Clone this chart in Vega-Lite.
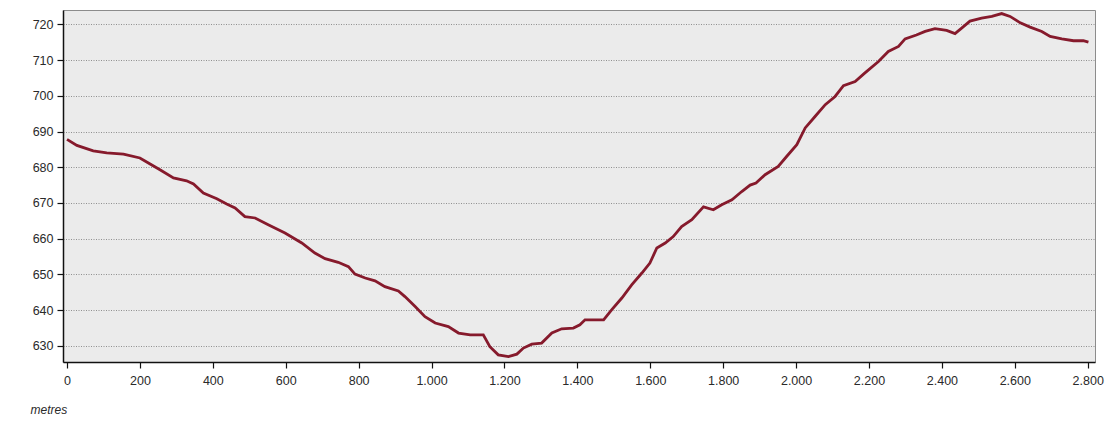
{
  "$schema": "https://vega.github.io/schema/vega-lite/v6.json",
  "autosize": {"type": "none"},
  "width": 1032,
  "height": 352,
  "padding": {"left": 63, "top": 10, "right": 19, "bottom": 59},
  "background": "#ffffff",
  "config": {
    "view": {"fill": "#ebebeb", "stroke": "#8c8c8c", "strokeWidth": 1},
    "axis": {
      "labelFont": "Liberation Sans",
      "labelFontSize": 12.5,
      "labelColor": "#2a2a2a",
      "domainColor": "#111111",
      "domainWidth": 1.5,
      "tickColor": "#111111",
      "tickSize": 6,
      "tickWidth": 1.2
    }
  },
  "data": {
    "values": [
      {"distance": 0, "elevation": 687.8},
      {"distance": 27, "elevation": 686.1},
      {"distance": 72, "elevation": 684.6},
      {"distance": 109, "elevation": 684.0},
      {"distance": 155, "elevation": 683.7},
      {"distance": 200, "elevation": 682.6},
      {"distance": 228, "elevation": 680.9},
      {"distance": 255, "elevation": 679.3},
      {"distance": 292, "elevation": 677.0},
      {"distance": 328, "elevation": 676.2},
      {"distance": 347, "elevation": 675.3},
      {"distance": 374, "elevation": 672.8},
      {"distance": 411, "elevation": 671.2},
      {"distance": 438, "elevation": 669.7},
      {"distance": 461, "elevation": 668.6},
      {"distance": 488, "elevation": 666.2},
      {"distance": 516, "elevation": 665.8},
      {"distance": 552, "elevation": 663.9},
      {"distance": 598, "elevation": 661.6},
      {"distance": 644, "elevation": 658.8},
      {"distance": 680, "elevation": 656.0},
      {"distance": 708, "elevation": 654.4},
      {"distance": 744, "elevation": 653.4},
      {"distance": 772, "elevation": 652.2},
      {"distance": 790, "elevation": 650.1},
      {"distance": 818, "elevation": 649.0},
      {"distance": 845, "elevation": 648.2},
      {"distance": 872, "elevation": 646.6},
      {"distance": 909, "elevation": 645.4},
      {"distance": 927, "elevation": 643.8},
      {"distance": 955, "elevation": 641.0},
      {"distance": 982, "elevation": 638.2},
      {"distance": 1010, "elevation": 636.4},
      {"distance": 1046, "elevation": 635.4},
      {"distance": 1074, "elevation": 633.6},
      {"distance": 1106, "elevation": 633.1},
      {"distance": 1142, "elevation": 633.1},
      {"distance": 1160, "elevation": 629.8},
      {"distance": 1183, "elevation": 627.5},
      {"distance": 1211, "elevation": 627.0},
      {"distance": 1234, "elevation": 627.7},
      {"distance": 1252, "elevation": 629.4},
      {"distance": 1275, "elevation": 630.5},
      {"distance": 1302, "elevation": 630.8},
      {"distance": 1330, "elevation": 633.6},
      {"distance": 1357, "elevation": 634.8},
      {"distance": 1389, "elevation": 635.0},
      {"distance": 1407, "elevation": 635.9},
      {"distance": 1421, "elevation": 637.3},
      {"distance": 1472, "elevation": 637.3},
      {"distance": 1494, "elevation": 640.1},
      {"distance": 1522, "elevation": 643.4},
      {"distance": 1549, "elevation": 647.1},
      {"distance": 1577, "elevation": 650.4},
      {"distance": 1599, "elevation": 653.2},
      {"distance": 1618, "elevation": 657.4},
      {"distance": 1641, "elevation": 658.8},
      {"distance": 1663, "elevation": 660.6},
      {"distance": 1686, "elevation": 663.4},
      {"distance": 1714, "elevation": 665.3},
      {"distance": 1746, "elevation": 668.9},
      {"distance": 1773, "elevation": 668.1},
      {"distance": 1796, "elevation": 669.5},
      {"distance": 1824, "elevation": 670.9},
      {"distance": 1851, "elevation": 673.2},
      {"distance": 1874, "elevation": 675.0},
      {"distance": 1890, "elevation": 675.6},
      {"distance": 1915, "elevation": 677.9},
      {"distance": 1951, "elevation": 680.2},
      {"distance": 1974, "elevation": 683.0},
      {"distance": 2002, "elevation": 686.3},
      {"distance": 2025, "elevation": 691.0},
      {"distance": 2052, "elevation": 694.2},
      {"distance": 2080, "elevation": 697.5},
      {"distance": 2107, "elevation": 699.8},
      {"distance": 2130, "elevation": 702.8},
      {"distance": 2162, "elevation": 704.0},
      {"distance": 2189, "elevation": 706.4},
      {"distance": 2226, "elevation": 709.6},
      {"distance": 2253, "elevation": 712.4},
      {"distance": 2281, "elevation": 713.8},
      {"distance": 2299, "elevation": 715.9},
      {"distance": 2330, "elevation": 717.0},
      {"distance": 2354, "elevation": 718.0},
      {"distance": 2381, "elevation": 718.8},
      {"distance": 2413, "elevation": 718.3},
      {"distance": 2436, "elevation": 717.4},
      {"distance": 2455, "elevation": 719.0},
      {"distance": 2477, "elevation": 720.9},
      {"distance": 2509, "elevation": 721.7},
      {"distance": 2537, "elevation": 722.2},
      {"distance": 2564, "elevation": 723.0},
      {"distance": 2587, "elevation": 722.2},
      {"distance": 2615, "elevation": 720.4},
      {"distance": 2642, "elevation": 719.2},
      {"distance": 2674, "elevation": 718.0},
      {"distance": 2697, "elevation": 716.6},
      {"distance": 2729, "elevation": 715.9},
      {"distance": 2761, "elevation": 715.4},
      {"distance": 2788, "elevation": 715.4},
      {"distance": 2802, "elevation": 715.0}
    ]
  },
  "mark": {"type": "line", "color": "#861a2c", "strokeWidth": 2.8, "clip": true},
  "encoding": {
    "x": {
      "field": "distance",
      "type": "quantitative",
      "scale": {"domain": [-11, 2820], "nice": false, "zero": false},
      "axis": {
        "values": [0, 200, 400, 600, 800, 1000, 1200, 1400, 1600, 1800, 2000, 2200, 2400, 2600, 2800],
        "format": ",d",
        "labelExpr": "replace(datum.label, ',', '.')",
        "grid": false,
        "labelPadding": 6,
        "title": "metres",
        "titleFont": "Liberation Sans",
        "titleFontSize": 12,
        "titleFontStyle": "italic",
        "titleFontWeight": "normal",
        "titleColor": "#2a2a2a",
        "titleAnchor": "start",
        "titleAlign": "left",
        "titleBaseline": "alphabetic",
        "titleX": -33,
        "titleY": 51
      }
    },
    "y": {
      "field": "elevation",
      "type": "quantitative",
      "scale": {"domain": [625.5, 724], "nice": false, "zero": false},
      "axis": {
        "values": [630, 640, 650, 660, 670, 680, 690, 700, 710, 720],
        "grid": true,
        "gridColor": "#8f8f8f",
        "gridDash": [1, 1.5],
        "gridWidth": 1,
        "labelPadding": 4,
        "title": null
      }
    }
  }
}
